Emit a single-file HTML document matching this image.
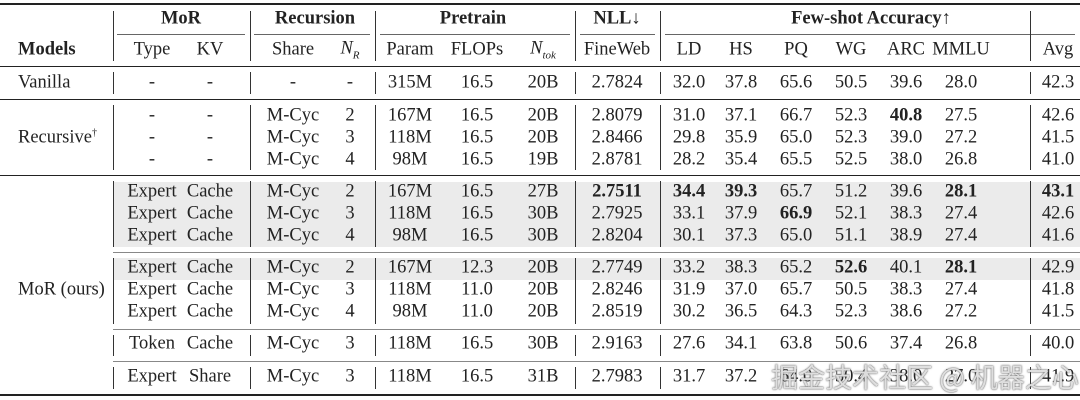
<!DOCTYPE html>
<html><head><meta charset="utf-8"><style>
body{margin:0;background:#fff;}
#t{position:relative;width:1080px;height:400px;overflow:hidden;font-family:"Liberation Serif",serif;font-size:18.5px;color:#222;}
.c{position:absolute;transform:translate(-50%,-50%);white-space:nowrap;}
.l{position:absolute;transform:translateY(-50%);white-space:nowrap;}
.b{font-weight:bold;}
.h{position:absolute;left:0;width:1080px;background:#222;}
.v{position:absolute;width:1px;background:#333;}
.sh{position:absolute;left:113px;width:967px;background:#ebebeb;}
</style></head><body>
<div id="t">
<div class="sh" style="top:182px;height:65px"></div>
<div class="sh" style="top:258px;height:22px"></div>
<div class="h" style="top:3px;height:2px"></div>
<div class="h" style="top:66px;height:1px"></div>
<div class="h" style="top:99px;height:1px"></div>
<div class="h" style="top:175px;height:1px"></div>
<div class="h" style="top:252px;height:1px;left:113px;background:#888"></div>
<div class="h" style="top:329px;height:1px;left:113px;background:#888"></div>
<div class="h" style="top:361px;height:1px;left:113px;background:#888"></div>
<div class="h" style="top:394px;height:2px"></div>
</div>
<script>
const t=document.getElementById('t');
const colX=[18,152,210,293,350,410,477,543,617,689,741,796,851,906,961,1058];
const rowY=[83,116,138,160,192,214,236,268,290,312,344,377];
const rows=[
["Vanilla","-","-","-","-","315M","16.5","20B","2.7824","32.0","37.8","65.6","50.5","39.6","28.0","42.3"],
["","-","-","M-Cyc","2","167M","16.5","20B","2.8079","31.0","37.1","66.7","52.3","*40.8","27.5","42.6"],
["","-","-","M-Cyc","3","118M","16.5","20B","2.8466","29.8","35.9","65.0","52.3","39.0","27.2","41.5"],
["","-","-","M-Cyc","4","98M","16.5","19B","2.8781","28.2","35.4","65.5","52.5","38.0","26.8","41.0"],
["","Expert","Cache","M-Cyc","2","167M","16.5","27B","*2.7511","*34.4","*39.3","65.7","51.2","39.6","*28.1","*43.1"],
["","Expert","Cache","M-Cyc","3","118M","16.5","30B","2.7925","33.1","37.9","*66.9","52.1","38.3","27.4","42.6"],
["","Expert","Cache","M-Cyc","4","98M","16.5","30B","2.8204","30.1","37.3","65.0","51.1","38.9","27.4","41.6"],
["","Expert","Cache","M-Cyc","2","167M","12.3","20B","2.7749","33.2","38.3","65.2","*52.6","40.1","*28.1","42.9"],
["","Expert","Cache","M-Cyc","3","118M","11.0","20B","2.8246","31.9","37.0","65.7","50.5","38.3","27.4","41.8"],
["","Expert","Cache","M-Cyc","4","98M","11.0","20B","2.8519","30.2","36.5","64.3","52.3","38.6","27.2","41.5"],
["","Token","Cache","M-Cyc","3","118M","16.5","30B","2.9163","27.6","34.1","63.8","50.6","37.4","26.8","40.0"],
["","Expert","Share","M-Cyc","3","118M","16.5","31B","2.7983","31.7","37.2","64.0","50.4","38.0","27.0","41.9"]
];
function add(cls,txt,x,y,name){const d=document.createElement('div');d.className=cls;d.innerHTML=txt;d.style.left=x+'px';d.style.top=y+'px';


t.appendChild(d);return d;}
rows.forEach((r,i)=>r.forEach((v,j)=>{if(!v)return;let b=v[0]=='*';if(b)v=v.slice(1);
if(j==0)add('l',v,colX[0],rowY[i],'model-label');else add('c'+(b?' b':''),v,colX[j],rowY[i],'cell');}));
add('l','Recursive<sup style="font-size:10px">†</sup>',18,138,'model-label');
add('l','MoR (ours)',18,290,'model-label');
const hdr1=[["MoR",181],["Recursion",315],["Pretrain",473],["NLL↓",617],["Few-shot Accuracy↑",871]];
hdr1.forEach(h=>add('c b',h[0],h[1],19,'group-header'));
const hdr2=["<b>Models</b>","Type","KV","Share","<i>N<sub style='font-size:11px'>R</sub></i>","Param","FLOPs","<i>N<sub style='font-size:11px'>tok</sub></i>","FineWeb","LD","HS","PQ","WG","ARC","MMLU","Avg"];
hdr2.forEach((h,j)=>{if(j==0)add('l',h,18,50,'column-header');else add('c',h,colX[j],50,'column-header');});
[[117,245],[254,370],[380,570],[580,655],[665,1075]].forEach(s=>{const d=document.createElement('div');d.className='h';d.style.cssText=`top:34px;height:1px;left:${s[0]}px;width:${s[1]-s[0]}px;background:#666`;


t.appendChild(d);});
const vx=[113,250,375,575,660,1030];
const segs=[[8,64],[69,97],[102,173],[178,250],[255,327],[332,359],[364,392]];
vx.forEach(x=>segs.forEach(s=>{const d=document.createElement('div');d.className='v';d.style.cssText=`left:${x}px;top:${s[0]+3}px;height:${s[1]-s[0]-6}px`;


t.appendChild(d);}));
const w=add('c','掘金技术社区 @ 机器之心',925,376,'watermark');
w.style.cssText+="font-family:'Noto Sans CJK SC',sans-serif;font-size:27px;color:rgba(255,255,255,0.8);text-shadow:0 0 1px #555,0 0 2px #777;";
</script>
</body></html>
